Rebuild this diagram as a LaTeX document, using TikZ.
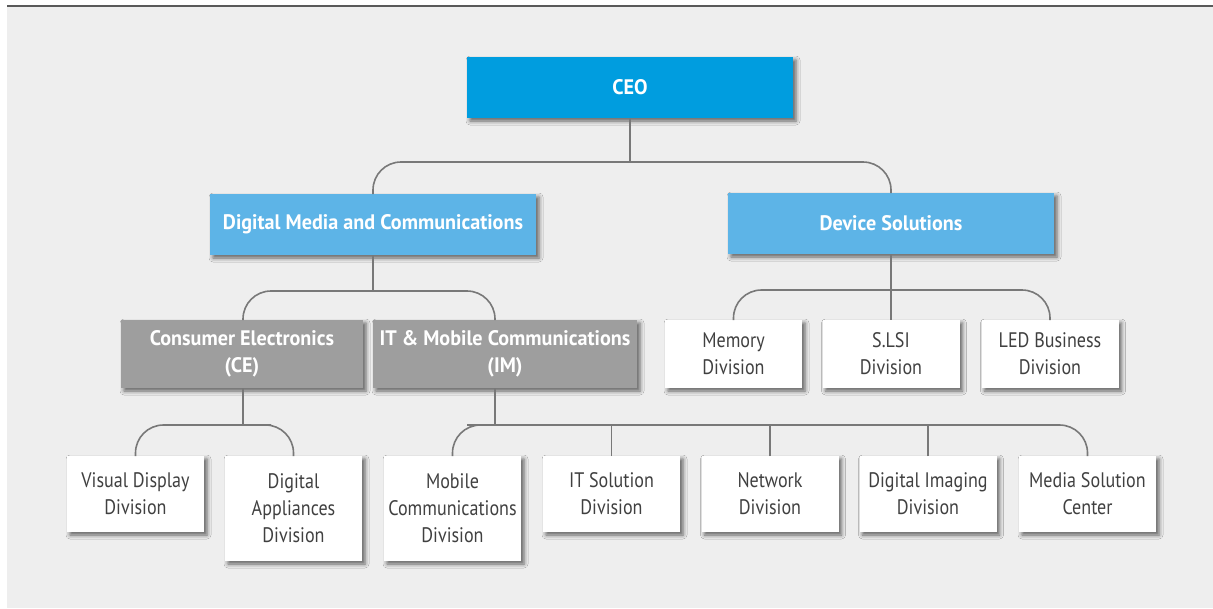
\documentclass[tikz,border=0pt]{standalone}
\usepackage{fontspec}
\setmainfont[FakeStretch=0.86, BoldFeatures={FakeStretch=0.96}]{PT Sans}
\usetikzlibrary{shadows.blur}
\definecolor{ceoblue}{RGB}{0,157,223}
\definecolor{lightblue}{RGB}{93,180,231}
\definecolor{boxgray}{RGB}{158,158,158}
\definecolor{bggray}{RGB}{238,238,238}
\definecolor{textgray}{RGB}{64,64,64}
\definecolor{linegray}{RGB}{120,120,120}
\tikzstyle{edge}=[draw=linegray, line width=1.6pt, rounded corners=28pt]
\tikzstyle{unit}=[rectangle, inner sep=0pt, outer sep=0pt, align=center,
                  font=\fontsize{21}{27}\selectfont,
                  blur shadow={shadow xshift=3pt, shadow yshift=-3pt,
                               shadow blur radius=4pt, shadow opacity=60}]
\tikzstyle{top}=[unit, fill=ceoblue, text=white, font=\fontsize{21}{27}\selectfont\bfseries,
                 minimum width=326pt, minimum height=61pt]
\tikzstyle{group}=[unit, fill=lightblue, text=white, font=\fontsize{21}{27}\selectfont\bfseries,
                   minimum width=326pt, minimum height=61pt]
\tikzstyle{sector}=[unit, fill=boxgray, text=white, font=\fontsize{21}{27}\selectfont\bfseries,
                    minimum height=68pt]
\tikzstyle{division}=[unit, fill=white, text=textgray, minimum width=137pt]

\begin{document}
\begin{tikzpicture}[x=1pt, y=-1pt]
     \useasboundingbox (0,0) rectangle (1213,608);
     \fill[bggray] (7,7) rectangle (1213,608);
     \draw[black!65, line width=2pt] (7,6) -- (1213,6);

     % top levels
     \node (ceo) at (630,87.5)  [top]{CEO};
     \node (dmc) at (373,224.5) [group]{Digital Media and Communications};
     \node (ds)  at (891,223.5) [group]{Device Solutions};

     \node (ce) at (242,354) [sector, minimum width=242pt]{Consumer Electronics\\(CE)};
     \node (im) at (505,354) [sector, minimum width=264pt]{IT \& Mobile Communications\\(IM)};

     \node (mem)  at (733.5,354) [division, minimum height=68pt]{Memory\\Division};
     \node (slsi) at (891,354)   [division, minimum height=68pt]{S.LSI\\Division};
     \node (led)  at (1050,354)  [division, minimum height=68pt]{LED Business\\Division};

     % bottom row
     \node (vdd) at (135.5,456)  [division, anchor=north, minimum height=76pt]{Visual Display\\Division};
     \node (dad) at (293.5,456)  [division, anchor=north, minimum height=105pt]{Digital\\Appliances\\Division};
     \node (mcd) at (452.5,456)  [division, anchor=north, minimum height=105pt]{Mobile\\Communications\\Division};
     \node (its) at (611.5,456)  [division, anchor=north, minimum height=76pt]{IT Solution\\Division};
     \node (net) at (770,456)    [division, anchor=north, minimum height=76pt]{Network\\Division};
     \node (dim) at (928,456)    [division, anchor=north, minimum height=76pt]{Digital Imaging\\Division};
     \node (msc) at (1087.5,456) [division, anchor=north, minimum height=76pt]{Media Solution\\Center};

     \coordinate (bus1) at (630,162);
     \coordinate (bus2) at (373,291);
     \coordinate (bus3) at (891,290);
     \coordinate (bus4) at (243,425);
     \coordinate (bus5) at (495,425);

     \draw [edge] (ceo.south) -- (bus1);
     \draw [edge] (dmc.north) |- (bus1) -| (ds.north);
     \draw [edge] (dmc.south) -- (bus2);
     \draw [edge] ([xshift=1pt]ce.north) |- (bus2) -| ([xshift=-10pt]im.north);
     \draw [edge] (ds.south) -- (slsi.north);
     \draw [edge] (mem.north) |- (bus3) -| (led.north);
     \draw [edge] ([xshift=1pt]ce.south) -- (bus4);
     \draw [edge] (vdd.north) |- (bus4) -| (dad.north);
     \draw [edge] ([xshift=-10pt]im.south) -- (bus5);
     \draw [edge] (mcd.north) |- (bus5) -| (msc.north);
     \foreach \n in {its,net,dim}
       \draw [edge] (\n.north) -- (\n.north |- bus5);
\end{tikzpicture}
\end{document}
